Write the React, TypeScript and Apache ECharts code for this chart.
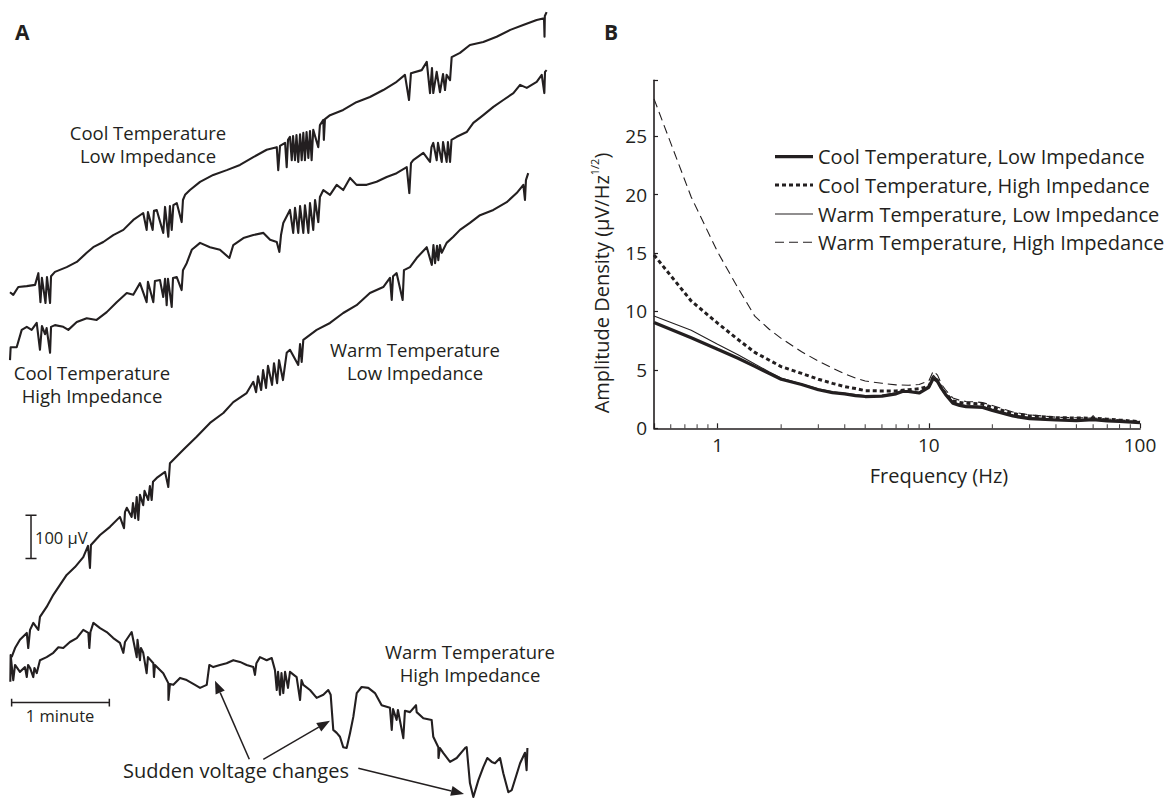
import React, { useEffect, useRef } from "react";
import * as echarts from "echarts";

const C = "#231f20";
const FONT = "'Open Sans', 'Noto Sans', sans-serif";

// ---------- Panel A: raw traces (time in s, display voltage in µV, traces offset) ----------
const coolLowTrace: [number, number][] = [
  [0, 1173], [2.0, 1167], [5.1, 1185], [10.3, 1187], [15.4, 1190], [17.4, 1217], [18.7, 1150], [19.6, 1206],
  [21.8, 1148], [22.7, 1208], [24.6, 1148], [25.2, 1210], [27.6, 1220], [34.8, 1231], [41.0, 1243], [47.1, 1264],
  [51.1, 1277], [57.3, 1289], [63.4, 1305], [69.6, 1317], [75.7, 1340], [81.8, 1356], [83.9, 1317], [84.7, 1358],
  [87.6, 1317], [88.4, 1361], [90.1, 1363], [94.1, 1310], [95.2, 1370], [97.2, 1301], [98.2, 1372], [99.3, 1317],
  [100.3, 1374], [102.4, 1379], [105.4, 1335], [106.2, 1386], [107.5, 1398], [110.5, 1409], [116.7, 1428],
  [124.8, 1444], [133.1, 1455], [141.2, 1467], [149.4, 1485], [157.6, 1502], [163.8, 1508], [164.7, 1455],
  [165.8, 1511], [168.9, 1518], [169.9, 1462], [170.7, 1525], [171.9, 1532], [173.0, 1478], [173.8, 1534],
  [175.0, 1478], [175.9, 1536], [177.0, 1474], [178.1, 1538], [179.1, 1478], [180.1, 1541], [181.1, 1478],
  [182.1, 1543], [183.2, 1483], [184.2, 1545], [185.2, 1478], [186.2, 1548], [189.3, 1508], [190.3, 1559],
  [192.4, 1571], [192.7, 1525], [193.4, 1573], [196.5, 1582], [204.6, 1594], [212.7, 1612], [221.0, 1624],
  [229.2, 1640], [237.4, 1659], [242.5, 1675], [245.0, 1617], [246.2, 1679], [252.8, 1686], [255.9, 1705],
  [257.9, 1633], [259.1, 1691], [259.9, 1633], [262.0, 1682], [264.0, 1635], [265.9, 1677], [267.1, 1640],
  [268.1, 1675], [270.2, 1663], [271.2, 1716], [276.3, 1726], [282.4, 1744], [290.6, 1751], [298.8, 1763],
  [307.2, 1779], [315.1, 1790], [323.4, 1802], [327.9, 1806], [328.2, 1763], [328.4, 1811], [329.5, 1820],
];

const coolHighTrace: [number, number][] = [
  [0, 1016], [0.4, 1046], [4.1, 1046], [7.2, 1086], [10.3, 1093], [13.3, 1086], [16.4, 1102], [18.4, 1040],
  [19.6, 1095], [21.5, 1076], [22.5, 1090], [24.6, 1033], [25.2, 1093], [27.6, 1097], [32.7, 1093], [35.8, 1086],
  [41.0, 1104], [47.1, 1113], [53.2, 1109], [59.4, 1127], [65.5, 1150], [71.7, 1171], [75.7, 1167], [79.8, 1194],
  [83.9, 1150], [84.7, 1197], [88.0, 1150], [89.0, 1199], [92.1, 1201], [94.1, 1162], [95.2, 1204], [96.2, 1143],
  [97.0, 1204], [99.3, 1139], [100.1, 1206], [102.4, 1208], [105.4, 1178], [106.2, 1224], [108.5, 1240],
  [111.6, 1271], [116.7, 1287], [122.8, 1277], [128.9, 1271], [134.7, 1252], [137.1, 1282], [143.3, 1298],
  [149.4, 1305], [155.6, 1310], [159.7, 1294], [163.8, 1289], [165.4, 1266], [166.4, 1305], [167.8, 1333],
  [171.9, 1363], [173.9, 1310], [175.0, 1368], [177.0, 1310], [178.1, 1372], [180.1, 1310], [181.1, 1374],
  [183.2, 1310], [184.2, 1379], [186.2, 1317], [187.3, 1386], [189.3, 1335], [190.3, 1393], [192.4, 1409],
  [196.5, 1398], [200.6, 1421], [204.6, 1409], [208.8, 1437], [212.8, 1421], [219.0, 1421], [225.1, 1428],
  [231.3, 1439], [237.4, 1448], [243.6, 1462], [245.2, 1402], [246.2, 1471], [247.6, 1478], [253.8, 1495],
  [257.9, 1474], [258.8, 1508], [259.9, 1518], [262.0, 1478], [262.8, 1518], [265.1, 1474], [265.9, 1520],
  [268.1, 1474], [268.9, 1520], [270.2, 1474], [271.1, 1525], [274.3, 1532], [280.4, 1543], [284.5, 1564],
  [290.6, 1582], [296.8, 1601], [302.9, 1617], [309.1, 1633], [313.2, 1652], [317.3, 1645], [323.4, 1659],
  [326.5, 1675], [328.1, 1633], [328.5, 1682], [329.5, 1686],
];

const warmLowTrace: [number, number][] = [
  [1.0, 330], [3.1, 351], [6.1, 370], [10.3, 386], [11.2, 351], [12.3, 393], [14.3, 409], [17.4, 393],
  [18.4, 423], [22.5, 446], [26.6, 474], [30.7, 497], [34.8, 520], [39.9, 538], [45.0, 561], [47.9, 587],
  [49.1, 536], [49.7, 589], [55.3, 612], [61.4, 631], [67.5, 654], [70.0, 628], [70.6, 665], [71.7, 675],
  [74.7, 654], [75.5, 686], [76.8, 651], [77.8, 700], [78.8, 647], [79.8, 705], [81.8, 681], [82.6, 714],
  [84.9, 693], [85.9, 725], [87.0, 693], [87.8, 735], [90.1, 744], [95.2, 758], [97.2, 723], [98.2, 778],
  [106.4, 809], [114.6, 839], [122.8, 871], [131.0, 894], [137.1, 919], [145.3, 940], [149.4, 966],
  [151.1, 942], [152.3, 979], [154.2, 947], [155.4, 993], [157.2, 952], [158.4, 1003], [160.9, 959],
  [162.1, 1009], [164.0, 963], [165.2, 1016], [167.6, 970], [169.9, 1033], [171.9, 1040], [177.0, 1005],
  [178.1, 1053], [179.1, 1012], [180.1, 1063], [188.3, 1086], [196.5, 1102], [204.6, 1125], [212.8, 1143],
  [221.0, 1171], [229.2, 1185], [233.3, 1206], [234.4, 1155], [235.2, 1210], [237.4, 1217], [241.1, 1155],
  [241.9, 1224], [245.6, 1231], [249.7, 1252], [255.9, 1277], [259.0, 1236], [260.0, 1282], [261.0, 1240],
  [262.2, 1280], [263.0, 1247], [264.0, 1282], [265.1, 1264], [268.1, 1287], [272.2, 1301], [276.3, 1317],
  [282.4, 1333], [288.6, 1351], [296.8, 1363], [305.0, 1381], [311.1, 1402], [315.2, 1421], [316.2, 1386],
  [316.8, 1432], [318.2, 1448],
];

const warmHighTrace: [number, number][] = [
  [0.2, 273], [0.4, 335], [1.2, 305], [2.0, 277], [3.1, 312], [6.1, 296], [9.2, 307], [10.3, 284], [11.1, 312],
  [12.3, 305], [14.3, 284], [15.0, 305], [16.4, 293], [18.4, 323], [22.5, 330], [26.6, 340], [29.7, 353],
  [32.7, 351], [36.8, 365], [41.0, 374], [45.0, 393], [48.1, 386], [48.7, 351], [49.4, 388], [51.2, 409],
  [55.3, 397], [59.4, 388], [63.4, 374], [67.5, 363], [69.6, 340], [70.6, 365], [74.7, 388], [77.8, 330],
  [78.3, 370], [79.8, 323], [80.4, 351], [81.8, 340], [83.9, 293], [84.7, 330], [88.0, 316], [88.4, 284],
  [89.0, 312], [94.1, 293], [97.2, 270], [97.3, 231], [98.2, 268], [100.3, 266], [104.4, 282], [108.5, 277],
  [113.6, 266], [116.7, 259], [120.8, 266], [122.4, 312], [124.8, 307], [128.9, 312], [133.0, 316], [137.1, 323],
  [141.2, 319], [145.3, 312], [149.4, 307], [150.4, 289], [151.3, 316], [153.5, 330], [157.6, 323], [160.7, 328],
  [162.7, 300], [163.8, 254], [164.6, 296], [165.8, 243], [166.7, 293], [167.8, 247], [168.9, 296], [170.7, 259],
  [171.9, 296], [176.0, 284], [178.1, 231], [179.0, 277], [180.1, 266], [184.2, 254], [188.3, 236], [192.4, 243],
  [195.4, 254], [196.9, 243], [198.5, 162], [200.6, 155], [202.6, 146], [204.6, 122], [206.7, 120], [208.8, 155],
  [210.8, 192], [212.9, 247], [215.9, 261], [220.0, 259], [224.1, 247], [228.2, 219], [233.3, 213], [234.4, 162],
  [235.2, 210], [237.4, 185], [238.2, 208], [241.5, 143], [242.5, 206], [245.6, 203], [249.3, 219], [249.7, 203],
  [253.8, 189], [258.9, 185], [259.9, 146], [263.0, 122], [263.1, 97], [264.0, 120], [266.0, 109], [270.2, 88],
  [274.3, 97], [279.4, 120], [280.4, 122], [282.4, 39], [284.5, 7], [287.6, 46], [290.6, 76], [293.1, 97],
  [295.8, 88], [297.8, 85], [300.9, 97], [302.9, 62], [306.0, 18], [308.1, 23], [313.2, 85], [316.2, 109],
  [317.2, 69], [317.7, 120],
];

// scale bars (1 minute, 100 µV) in data units
const minuteBar: [number, number][] = [[1, 216], [1, 234], [1, 225], [61, 225], [61, 216], [61, 234]];
const microvoltBar: [number, number][] = [[9.5, 558], [16.3, 558], [12.9, 558], [12.9, 658], [9.5, 658], [16.3, 658]];

// ---------- Panel B: amplitude spectral density ----------
const coolLowPSD: [number, number][] = [
  [0.5, 9.05], [0.75, 7.75], [1, 6.76], [1.25, 6.0], [1.5, 5.3], [1.75, 4.7], [2, 4.2], [2.5, 3.75], [3, 3.3],
  [3.5, 3.05], [4, 2.95], [4.5, 2.8], [5, 2.72], [6, 2.75], [7, 2.95], [7.5, 3.15], [8, 3.15], [9, 3.02],
  [10, 3.5], [10.5, 4.28], [11, 4.0], [11.5, 3.4], [12, 2.9], [13, 2.15], [14, 1.95], [15, 1.85], [17, 1.8],
  [18, 1.78], [20, 1.52], [25, 1.05], [30, 0.83], [40, 0.71], [50, 0.66], [60, 0.75], [70, 0.63], [80, 0.58],
  [100, 0.49],
];
const coolHighPSD: [number, number][] = [
  [0.5, 14.84], [0.75, 10.9], [1, 9.0], [1.25, 7.6], [1.5, 6.5], [1.75, 5.85], [2, 5.28], [2.5, 4.7], [3, 4.2],
  [3.5, 3.85], [4, 3.57], [4.5, 3.4], [5, 3.22], [6, 3.2], [7, 3.2], [8, 3.3], [9, 3.38], [10, 3.6],
  [10.5, 4.4], [11, 4.1], [11.5, 3.4], [12, 3.0], [13, 2.35], [14, 2.2], [15, 2.14], [17, 2.1], [18, 2.05],
  [20, 1.8], [25, 1.25], [30, 1.06], [40, 0.91], [50, 0.88], [60, 0.86], [70, 0.78], [80, 0.7], [100, 0.57],
];
const warmLowPSD: [number, number][] = [
  [0.5, 9.62], [0.75, 8.4], [1, 7.19], [1.25, 6.3], [1.5, 5.5], [1.75, 4.85], [2, 4.3], [2.5, 3.8], [3, 3.38],
  [3.5, 3.12], [4, 3.0], [4.5, 2.88], [5, 2.8], [6, 2.82], [7, 3.05], [7.5, 3.25], [8, 3.22], [9, 3.08],
  [10, 3.65], [10.5, 4.55], [11, 4.15], [11.5, 3.5], [12, 3.0], [13, 2.3], [14, 2.05], [15, 1.95], [17, 1.92],
  [18, 1.88], [20, 1.62], [25, 1.15], [30, 0.92], [40, 0.78], [50, 0.74], [58, 0.72], [60, 1.1], [62, 0.72],
  [70, 0.68], [80, 0.62], [100, 0.52],
];
const warmHighPSD: [number, number][] = [
  [0.5, 28.2], [0.75, 19.8], [1, 15.1], [1.25, 12.0], [1.5, 9.6], [1.75, 8.5], [2, 7.7], [2.5, 6.55], [3, 5.75],
  [3.5, 5.15], [4, 4.65], [4.5, 4.3], [5, 4.05], [6, 3.85], [7, 3.72], [8, 3.68], [9, 3.75], [10, 4.05],
  [10.5, 4.9], [11, 4.55], [11.5, 3.75], [12, 3.3], [13, 2.6], [14, 2.4], [15, 2.3], [17, 2.25], [18, 2.2],
  [20, 1.95], [25, 1.4], [30, 1.15], [40, 0.95], [50, 0.9], [60, 0.88], [70, 0.8], [80, 0.72], [100, 0.57],
];
const minorTickFreqs = [0.6, 0.7, 0.8, 0.9, 2, 3, 4, 5, 6, 7, 8, 9, 20, 30, 40, 50, 60, 70, 80, 90];
const yTickValues = [0, 5, 10, 15, 20, 25];

const legendNames = [
  "Cool Temperature, Low Impedance",
  "Cool Temperature, High Impedance",
  "Warm Temperature, Low Impedance",
  "Warm Temperature, High Impedance",
];

function arrow(x1: number, y1: number, x2: number, y2: number) {
  const dx = x2 - x1, dy = y2 - y1;
  const n = Math.sqrt(dx * dx + dy * dy);
  const ux = dx / n, uy = dy / n;
  const len = 13, w = 5;
  const bx = x2 - ux * len, by = y2 - uy * len;
  return [
    { type: "line", shape: { x1, y1, x2: bx, y2: by }, style: { stroke: C, lineWidth: 1.5 } },
    {
      type: "polygon",
      shape: { points: [[x2, y2], [bx - uy * w, by + ux * w], [bx + uy * w, by - ux * w]] },
      style: { fill: C },
    },
  ];
}

function txt(text: string, x: number, y: number, size: number, align = "center", weight = "normal") {
  return {
    type: "text",
    x,
    y,
    style: {
      text,
      fill: C,
      font: `${weight} ${size}px ${FONT}`,
      align,
      verticalAlign: "middle",
    },
  };
}

function twoLine(l1: string, l2: string, x: number, y1: number) {
  return [txt(l1, x, y1, 18.5), txt(l2, x, y1 + 23, 18.5)];
}

export default function App() {
  const ref = useRef<HTMLDivElement>(null);
  useEffect(() => {
    if (!ref.current) return;
    const chart = echarts.init(ref.current, undefined, { renderer: "svg" });
    const traceStyle = { color: C, width: 2.1, join: "round" };
    const traceSeries = [coolLowTrace, coolHighTrace, warmLowTrace, warmHighTrace].map((d) => ({
      type: "line",
      xAxisIndex: 0,
      yAxisIndex: 0,
      data: d,
      symbol: "none",
      silent: true,
      lineStyle: traceStyle,
      itemStyle: { color: C },
    }));
    const barSeries = [minuteBar, microvoltBar].map((d) => ({
      type: "line",
      xAxisIndex: 0,
      yAxisIndex: 0,
      data: d,
      symbol: "none",
      silent: true,
      lineStyle: { color: C, width: 1.5 },
    }));
    const psdStyles = [
      { color: C, width: 3.2, type: "solid" },
      { color: C, width: 3, type: [4, 3] },
      { color: C, width: 1.1, type: "solid" },
      { color: C, width: 1.1, type: [9, 5] },
    ];
    const psdSeries = [coolLowPSD, coolHighPSD, warmLowPSD, warmHighPSD].map((d, i) => ({
      type: "line",
      name: legendNames[i],
      xAxisIndex: 1,
      yAxisIndex: 1,
      data: d,
      symbol: "none",
      silent: true,
      z: 4 - i,
      lineStyle: psdStyles[i],
    }));
    const legendY = [156.7, 185, 214, 242.3];
    const legendGraphics: any[] = [];
    legendNames.forEach((name, i) => {
      const st = psdStyles[i];
      legendGraphics.push({
        type: "line",
        shape: { x1: 775, y1: legendY[i], x2: 813, y2: legendY[i] },
        style: {
          stroke: C,
          lineWidth: st.width,
          lineDash: Array.isArray(st.type) ? st.type : null,
        },
      });
      legendGraphics.push(txt(name, 818, legendY[i], 20, "left"));
    });

    chart.setOption({
      animation: false,
      grid: [
        { left: 10, top: 0, width: 586.3, height: 800 },
        { left: 654, top: 80.2, width: 486, height: 348.1 },
      ],
      xAxis: [
        { gridIndex: 0, type: "value", min: 0, max: 360, show: false },
        {
          gridIndex: 1,
          type: "log",
          logBase: 10,
          min: 0.5,
          max: 100,
          axisLine: { show: true, lineStyle: { color: C, width: 1.6 } },
          axisTick: { show: true, inside: true, length: 5, lineStyle: { color: C, width: 1.2 } },
          axisLabel: {
            margin: 7,
            fontSize: 19,
            color: C,
            fontFamily: FONT,
            formatter: (v: number) => {
              const l = Math.log10(v);
              return v >= 0.99 && Math.abs(l - Math.round(l)) < 1e-6 ? String(Math.round(v)) : "";
            },
          },
          splitLine: { show: false },
        },
      ],
      yAxis: [
        { gridIndex: 0, type: "value", min: 0, max: 1848, show: false },
        {
          gridIndex: 1,
          type: "value",
          min: 0,
          max: 29.8,
          interval: 5,
          axisLine: { show: true, lineStyle: { color: C, width: 1.6 } },
          axisTick: { show: true, inside: true, length: 4, lineStyle: { color: C, width: 1.2 } },
          axisLabel: {
            margin: 7,
            fontSize: 19,
            color: C,
            fontFamily: FONT,
            formatter: (v: number) => (yTickValues.includes(v) ? String(v) : ""),
          },
          splitLine: { show: false },
        },
      ],
      series: [
        ...traceSeries,
        ...barSeries,
        ...psdSeries,
        {
          type: "scatter",
          xAxisIndex: 1,
          yAxisIndex: 1,
          data: minorTickFreqs.map((f) => [f, 0]),
          symbol: "rect",
          symbolSize: [1.1, 4],
          symbolOffset: [0, -2],
          silent: true,
          itemStyle: { color: C },
        },
      ],
      graphic: [
        txt("A", 15, 32, 21, "left", "bold"),
        txt("B", 604, 32, 21, "left", "bold"),
        ...twoLine("Cool Temperature", "Low Impedance", 148, 132.5),
        ...twoLine("Cool Temperature", "High Impedance", 92, 372.5),
        ...twoLine("Warm Temperature", "Low Impedance", 415, 349.5),
        ...twoLine("Warm Temperature", "High Impedance", 470, 651),
        txt("Sudden voltage changes", 236, 770, 20, "center"),
        txt("1 minute", 60, 715, 16.5, "center"),
        txt("100 µV", 35, 537, 16.5, "left"),
        ...arrow(249.3, 759.3, 215, 680.7),
        ...arrow(263.3, 759.3, 330, 720.7),
        ...arrow(358.3, 768.3, 464, 794),
        ...legendGraphics,
        {
          type: "text",
          x: 601,
          y: 283,
          rotation: Math.PI / 2,
          style: {
            text: "{a|Amplitude Density (µV/Hz}{s|1/2}{a|)}",
            align: "center",
            verticalAlign: "middle",
            rich: {
              a: { fontSize: 20, fontFamily: FONT, fill: C, lineHeight: 24 },
              s: { fontSize: 11, fontFamily: FONT, fill: C, verticalAlign: "top", lineHeight: 24 },
            },
          },
        },
        txt("Frequency (Hz)", 939, 475, 20, "center"),
      ],
    });
    return () => chart.dispose();
  }, []);
  return (
    <div
      ref={ref}
      style={{ position: "absolute", left: 0, top: 0, width: 1169, height: 800, background: "#fff" }}
    />
  );
}
